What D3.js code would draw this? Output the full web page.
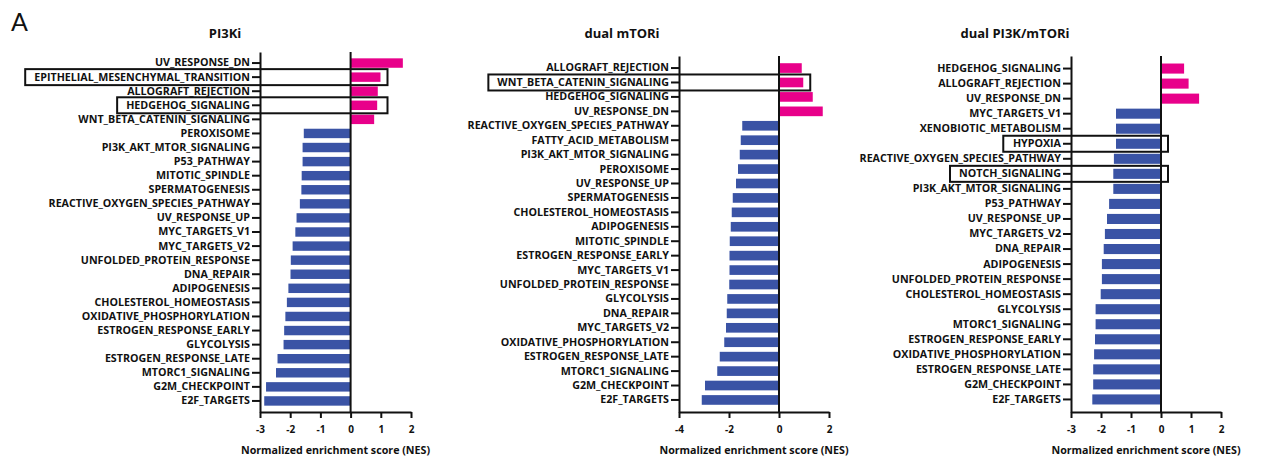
<!DOCTYPE html>
<html>
<head>
<meta charset="utf-8">
<script src="https://cdn.jsdelivr.net/npm/d3@7"></script>
<style>
  body { margin: 0; background: #fff; }
  svg { display: block; }
  text { font-family: "Open Sans", "Noto Sans", sans-serif; fill: #111; }
  .axis path, .axis line { stroke: #111; stroke-width: 2; }
  .axis text { font-weight: bold; }
</style>
</head>
<body>
<div id="chart"></div>
<script>
// --- data ---
var pi3kLabels = ["UV_RESPONSE_DN", "EPITHELIAL_MESENCHYMAL_TRANSITION", "ALLOGRAFT_REJECTION",
    "HEDGEHOG_SIGNALING", "WNT_BETA_CATENIN_SIGNALING", "PEROXISOME", "PI3K_AKT_MTOR_SIGNALING",
    "P53_PATHWAY", "MITOTIC_SPINDLE", "SPERMATOGENESIS", "REACTIVE_OXYGEN_SPECIES_PATHWAY",
    "UV_RESPONSE_UP", "MYC_TARGETS_V1", "MYC_TARGETS_V2", "UNFOLDED_PROTEIN_RESPONSE", "DNA_REPAIR",
    "ADIPOGENESIS", "CHOLESTEROL_HOMEOSTASIS", "OXIDATIVE_PHOSPHORYLATION", "ESTROGEN_RESPONSE_EARLY",
    "GLYCOLYSIS", "ESTROGEN_RESPONSE_LATE", "MTORC1_SIGNALING", "G2M_CHECKPOINT", "E2F_TARGETS"];
var pi3kValues = [1.73, 0.99, 0.90, 0.88, 0.78, -1.55, -1.59, -1.59, -1.62, -1.63, -1.68,
    -1.79, -1.83, -1.92, -1.98, -1.99, -2.06, -2.11, -2.16, -2.20, -2.22, -2.42, -2.47, -2.80, -2.86];
var pi3kBoxed = ["EPITHELIAL_MESENCHYMAL_TRANSITION", "HEDGEHOG_SIGNALING"];

var mtorLabels = ["ALLOGRAFT_REJECTION", "WNT_BETA_CATENIN_SIGNALING", "HEDGEHOG_SIGNALING",
    "UV_RESPONSE_DN", "REACTIVE_OXYGEN_SPECIES_PATHWAY", "FATTY_ACID_METABOLISM",
    "PI3K_AKT_MTOR_SIGNALING", "PEROXISOME", "UV_RESPONSE_UP", "SPERMATOGENESIS",
    "CHOLESTEROL_HOMEOSTASIS", "ADIPOGENESIS", "MITOTIC_SPINDLE", "ESTROGEN_RESPONSE_EARLY",
    "MYC_TARGETS_V1", "UNFOLDED_PROTEIN_RESPONSE", "GLYCOLYSIS", "DNA_REPAIR", "MYC_TARGETS_V2",
    "OXIDATIVE_PHOSPHORYLATION", "ESTROGEN_RESPONSE_LATE", "MTORC1_SIGNALING", "G2M_CHECKPOINT",
    "E2F_TARGETS"];
var mtorValues = [0.91, 0.97, 1.35, 1.75, -1.47, -1.53, -1.57, -1.64, -1.72, -1.85, -1.89,
    -1.93, -1.97, -1.98, -1.98, -1.99, -2.07, -2.09, -2.12, -2.19, -2.37, -2.47, -2.96, -3.09];
var mtorBoxed = ["WNT_BETA_CATENIN_SIGNALING"];

var dualLabels = ["HEDGEHOG_SIGNALING", "ALLOGRAFT_REJECTION", "UV_RESPONSE_DN", "MYC_TARGETS_V1",
    "XENOBIOTIC_METABOLISM", "HYPOXIA", "REACTIVE_OXYGEN_SPECIES_PATHWAY", "NOTCH_SIGNALING",
    "PI3K_AKT_MTOR_SIGNALING", "P53_PATHWAY", "UV_RESPONSE_UP", "MYC_TARGETS_V2", "DNA_REPAIR",
    "ADIPOGENESIS", "UNFOLDED_PROTEIN_RESPONSE", "CHOLESTEROL_HOMEOSTASIS", "GLYCOLYSIS",
    "MTORC1_SIGNALING", "ESTROGEN_RESPONSE_EARLY", "OXIDATIVE_PHOSPHORYLATION",
    "ESTROGEN_RESPONSE_LATE", "G2M_CHECKPOINT", "E2F_TARGETS"];
var dualValues = [0.77, 0.92, 1.27, -1.50, -1.50, -1.50, -1.57, -1.59, -1.59, -1.73, -1.80,
    -1.87, -1.91, -1.97, -1.97, -2.01, -2.18, -2.18, -2.20, -2.23, -2.26, -2.26, -2.29];
var dualBoxed = ["HYPOXIA", "NOTCH_SIGNALING"];

var pi3kTicks = [-3, -2, -1, 0, 1, 2];
var mtorTicks = [-4, -2, 0, 2];
var dualTicks = [-3, -2, -1, 0, 1, 2];

var xTitle = "Normalized enrichment score (NES)";
var posColor = "#e8008a", negColor = "#3a53a5";

// --- layout ---
var W = 1269, H = 457;
var svg = d3.select("#chart").append("svg").attr("width", W).attr("height", H);

svg.append("text").attr("x", 11).attr("y", 31)
    .style("font-size", "25px").style("font-family", "Lato, 'Open Sans', sans-serif")
    .text("A");

var panels = [
    { title: "PI3Ki", labels: pi3kLabels, values: pi3kValues, boxed: pi3kBoxed, ticks: pi3kTicks,
      domain: [-3, 2], x0: 260, x1: 411, top: 52, titleDx: -35, outer: 0.45 },
    { title: "dual mTORi", labels: mtorLabels, values: mtorValues, boxed: mtorBoxed, ticks: mtorTicks,
      domain: [-4, 2], x0: 679, x1: 829, top: 56, titleDx: -57, outer: 0.5 },
    { title: "dual PI3K/mTORi", labels: dualLabels, values: dualValues, boxed: dualBoxed, ticks: dualTicks,
      domain: [-3, 2], x0: 1071, x1: 1221, top: 56, titleDx: -56, outer: 0.5 }
];
var bottom = 412;

panels.forEach(function (p) {
    var g = svg.append("g");
    var x = d3.scaleLinear().domain(p.domain).range([p.x0, p.x1]);
    var y = d3.scaleBand().domain(p.labels).range([p.top, bottom])
        .paddingInner(0.33).paddingOuter(p.outer);

    var rows = p.labels.map(function (l, i) { return { label: l, value: p.values[i] }; });

    g.selectAll(".bar").data(rows).enter().append("rect")
        .attr("class", "bar")
        .attr("x", function (d) { return x(Math.min(0, d.value)); })
        .attr("y", function (d) { return y(d.label); })
        .attr("width", function (d) { return Math.abs(x(d.value) - x(0)); })
        .attr("height", y.bandwidth())
        .attr("fill", function (d) { return d.value > 0 ? posColor : negColor; });

    // zero line
    g.append("line")
        .attr("x1", x(0)).attr("x2", x(0))
        .attr("y1", p.top).attr("y2", bottom)
        .attr("stroke", "#111").attr("stroke-width", 2);

    var yAxis = g.append("g").attr("class", "axis")
        .attr("transform", "translate(" + p.x0 + ",0)")
        .call(d3.axisLeft(y).tickSize(8).tickSizeOuter(0).tickPadding(2));
    yAxis.selectAll("text").style("font-size", "10.7px");

    var xAxis = g.append("g").attr("class", "axis")
        .attr("transform", "translate(0," + bottom + ")")
        .call(d3.axisBottom(x).tickValues(p.ticks).tickSize(6).tickSizeOuter(0).tickPadding(8)
            .tickFormat(function (d) { return String(d); }));
    xAxis.selectAll("text").style("font-size", "10px");

    // boxes round highlighted gene sets
    var boxRight = x(Math.max(0, d3.max(p.boxed, function (l) {
        return p.values[p.labels.indexOf(l)];
    }))) + 7;
    yAxis.selectAll(".tick").each(function (l) {
        if (p.boxed.indexOf(l) < 0) return;
        var bb = this.querySelector("text").getBBox();
        var left = p.x0 - 10 - bb.width - 9;
        var cy = y(l) + y.bandwidth() / 2;
        g.append("rect")
            .attr("x", left).attr("y", cy - 8)
            .attr("width", boxRight - left).attr("height", 16)
            .attr("fill", "none").attr("stroke", "#111").attr("stroke-width", 2);
    });

    g.append("text")
        .attr("x", p.x0 + p.titleDx).attr("y", 38)
        .attr("text-anchor", "middle")
        .style("font-size", "13px").style("font-weight", "bold")
        .text(p.title);

    g.append("text")
        .attr("x", (p.x0 + p.x1) / 2).attr("y", 454)
        .attr("text-anchor", "middle")
        .style("font-size", "10.7px").style("font-weight", "bold")
        .text(xTitle);
});
</script>
</body>
</html>
